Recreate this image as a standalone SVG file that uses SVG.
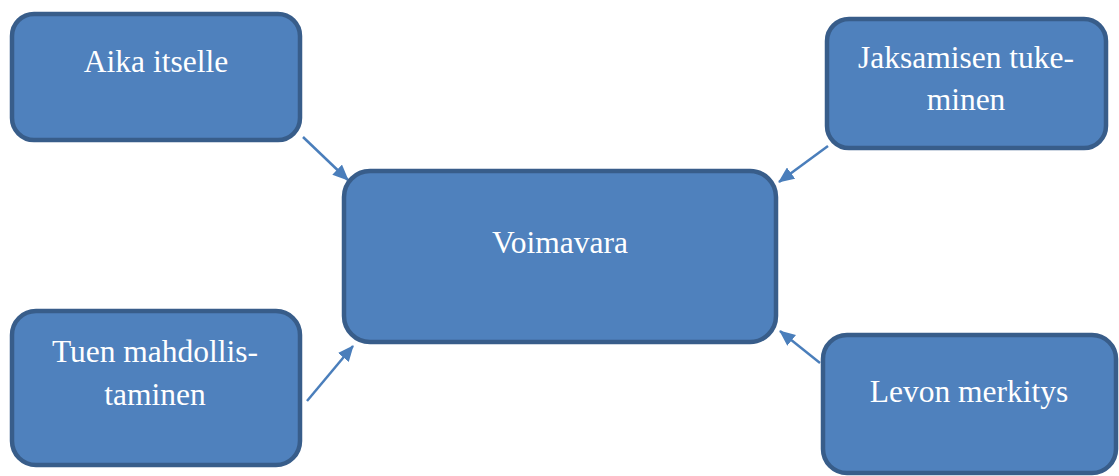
<svg xmlns="http://www.w3.org/2000/svg" width="1119" height="476" viewBox="0 0 1119 476">
  <defs>
    <marker id="arrow" markerUnits="userSpaceOnUse" markerWidth="16" markerHeight="14" refX="15" refY="7" orient="auto">
      <path d="M0,0 L16,7 L0,14 Z" fill="#4a7ebb"/>
    </marker>
    <style>
      .box { fill: #4f81bd; stroke: #385d8a; stroke-width: 4.5; }
      .label { font-family: "Liberation Serif", "Times New Roman", serif; font-size: 31.5px; fill: #ffffff; text-anchor: middle; }
      .conn { stroke: #4a7ebb; stroke-width: 2.5; fill: none; marker-end: url(#arrow); }
    </style>
  </defs>

  <rect x="0" y="0" width="1119" height="476" fill="#ffffff"/>

  <!-- connectors -->
  <g id="connectors">
    <line class="conn" x1="303" y1="137" x2="348" y2="180"/>
    <line class="conn" x1="828" y1="146" x2="779" y2="182"/>
    <line class="conn" x1="307" y1="401" x2="353" y2="346"/>
    <line class="conn" x1="820" y1="363" x2="780" y2="331"/>
  </g>

  <!-- nodes -->
  <g id="node-aika">
    <rect class="box" x="12" y="14" width="288" height="126" rx="22" ry="22"/>
    <text class="label" x="156" y="72">Aika itselle</text>
  </g>

  <g id="node-jaksamisen">
    <rect class="box" x="827" y="19" width="279" height="129" rx="22" ry="22"/>
    <text class="label" x="966" y="68">Jaksamisen tuke-</text>
    <text class="label" x="966" y="110">minen</text>
  </g>

  <g id="node-voimavara">
    <rect class="box" x="344" y="171" width="432" height="171" rx="26" ry="26"/>
    <text class="label" x="560" y="253">Voimavara</text>
  </g>

  <g id="node-tuen">
    <rect class="box" x="12" y="311" width="288" height="154" rx="24" ry="24"/>
    <text class="label" x="155" y="362">Tuen mahdollis-</text>
    <text class="label" x="155" y="405">taminen</text>
  </g>

  <g id="node-levon">
    <rect class="box" x="823" y="335" width="293" height="138" rx="24" ry="24"/>
    <text class="label" x="969" y="402">Levon merkitys</text>
  </g>
</svg>
